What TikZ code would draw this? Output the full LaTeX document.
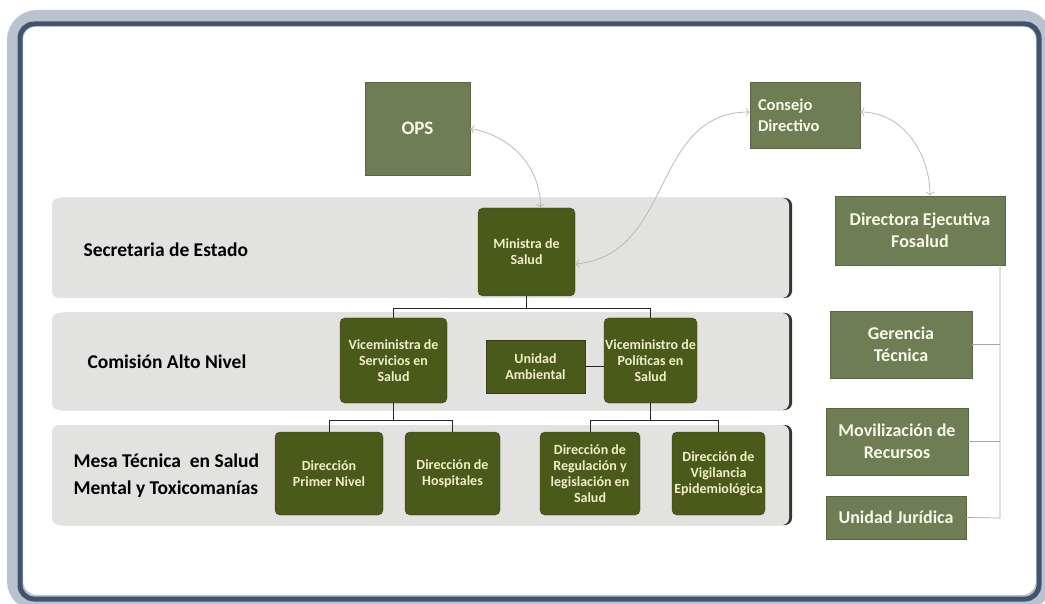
\documentclass[tikz,border=0pt]{standalone}
\usepackage{fontspec}
\setmainfont{Carlito}
\usetikzlibrary{arrows.meta}

\definecolor{bandgray}{HTML}{E2E2E0}
\definecolor{bandedge}{HTML}{2F3A2A}
\definecolor{olivedark}{HTML}{4A5A1A}
\definecolor{olivelight}{HTML}{6D7E55}
\definecolor{frameblue}{HTML}{50698A}
\definecolor{boxtext}{HTML}{F1EEC8}

\begin{document}
\begin{tikzpicture}[x=1pt,y=-1pt,
    band/.style={fill=bandgray,rounded corners=7pt},
    lbl/.style={anchor=west,align=left,font=\bfseries\fontsize{19.5}{27}\selectfont},
    darkbox/.style={fill=olivedark,draw=olivedark!70!black,rounded corners=5pt,text=boxtext,
        align=center,inner sep=1pt,font=\bfseries\fontsize{14}{16}\selectfont},
    greybox/.style={fill=olivelight,draw=olivelight!80!black,text=boxtext!40!white,
        align=center,inner sep=1pt,font=\bfseries\fontsize{18}{22}\selectfont},
    link/.style={draw=black!85,line width=0.8pt},
    thinlink/.style={draw=gray!70,line width=0.7pt},
    arc/.style={draw=gray!55,line width=0.8pt,{To[length=4pt]}-{To[length=4pt]}},
]
    \useasboundingbox (0,0) rectangle (1045,604);

    % frame
    \draw[frameblue!40!white,line width=16pt,rounded corners=22pt](15,18) rectangle (1044,603);
    \draw[frameblue!80!black,line width=5pt,rounded corners=14pt](20,24) rectangle (1039,599);

    % bands
    \foreach \ya/\yb in {198/298,313/410,425/525}{
        \fill[bandedge,rounded corners=7pt](55,\ya) rectangle (792,\yb);
        \fill[band](52,\ya) rectangle (789,\yb);
    }
    \node[lbl] (lsec) at (80,250) {Secretaria de Estado};
    \node[lbl] (lcom) at (84,362) {Comisión Alto Nivel};
    \node[lbl] (lmesa) at (70,476) {Mesa Técnica\ \ en Salud\\Mental y Toxicomanías};

    % top boxes
    \node[greybox,minimum width=105,minimum height=93,font=\bfseries\fontsize{19}{22}\selectfont] (ops) at (417.5,128.5) {OPS};
    \node[greybox,minimum width=110,minimum height=66,text width=94,align=left,
        font=\bfseries\fontsize{16.5}{21}\selectfont] (cons) at (805,115) {Consejo\\Directivo};

    % ministry
    \node[darkbox,minimum width=97,minimum height=88] (mins) at (526.5,252) {Ministra de\\Salud};
    \node[darkbox,minimum width=107,minimum height=85] (vicea) at (393.5,360.5) {Viceministra de\\Servicios en\\Salud};
    \node[darkbox,rounded corners=0pt,minimum width=99,minimum height=53] (amb) at (535.5,366.5) {Unidad\\Ambiental};
    \node[darkbox,minimum width=93,minimum height=85] (viceb) at (650.5,360.5) {Viceministro de\\Políticas en\\Salud};
    \node[darkbox,minimum width=108,minimum height=83] (dira) at (329,473.5) {Dirección\\Primer Nivel};
    \node[darkbox,minimum width=95,minimum height=83] (dirb) at (452.5,473.5) {Dirección de\\Hospitales};
    \node[darkbox,minimum width=100,minimum height=83] (dirc) at (590,473.5) {Dirección de\\Regulación y\\legislación en\\Salud};
    \node[darkbox,minimum width=93,minimum height=83] (dird) at (718.5,473.5) {Dirección de\\Vigilancia\\Epidemiológica};

    % fosalud
    \node[greybox,minimum width=170,minimum height=69] (fos) at (920,230.5) {Directora Ejecutiva\\Fosalud};
    \node[greybox,minimum width=142,minimum height=67] (ger) at (901,344.5) {Gerencia\\Técnica};
    \node[greybox,minimum width=142,minimum height=67] (mov) at (897,441.5) {Movilización de\\Recursos};
    \node[greybox,minimum width=140,minimum height=43] (jur) at (896,517.5) {Unidad Jurídica};

    % tree
    \draw[link](mins.south)--++(0,12)-|(vicea.north);
    \draw[link](mins.south)--++(0,12)-|(viceb.north);
    \draw[link](vicea.south)--++(0,17)-|(dira.north);
    \draw[link](vicea.south)--++(0,17)-|(dirb.north);
    \draw[link](viceb.south)--++(0,17)-|(dirc.north);
    \draw[link](viceb.south)--++(0,17)-|(dird.north);
    \draw[link](amb.east)--(amb.east-|viceb.west);

    \coordinate (trunk) at (1000,518);
    \draw[thinlink](fos.south-|trunk)--(trunk)--(jur.east);
    \draw[thinlink](ger.east)--(ger.east-|trunk);
    \draw[thinlink](mov.east)--(mov.east-|trunk);

    % relations
    \draw[arc](ops.east) to[out=-10,in=90] ([xshift=14pt]mins.north);
    \draw[arc]([yshift=-12pt]mins.east) to[out=5,in=180,looseness=1.1] ([yshift=3pt]cons.west);
    \draw[arc]([yshift=3pt]cons.east) to[out=0,in=90] ([xshift=10pt]fos.north);
\end{tikzpicture}
\end{document}
